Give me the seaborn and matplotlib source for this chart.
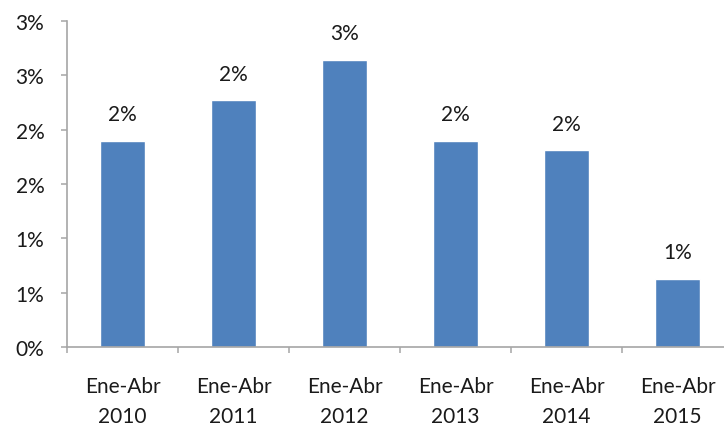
import matplotlib
matplotlib.use("Agg")
import matplotlib.pyplot as plt
import seaborn as sns
import pandas as pd
import numpy as np
import math
from matplotlib.ticker import FuncFormatter, FixedLocator

categories = ["Ene-Abr\n2010", "Ene-Abr\n2011", "Ene-Abr\n2012", "Ene-Abr\n2013", "Ene-Abr\n2014", "Ene-Abr\n2015"]
values = [0.0190, 0.0227, 0.0264, 0.0190, 0.0181, 0.0063]
yticks = [0.0, 0.005, 0.010, 0.015, 0.020, 0.025, 0.030]


def pct(v):
    return f"{math.floor(round(v * 100, 6) + 0.5):d}%"


sns.set_theme(style="white")
plt.rcParams['font.family'] = ['Lato', 'DejaVu Sans']

df = pd.DataFrame({"cat": categories, "val": values})

fig = plt.figure(figsize=(7.24, 4.31), dpi=100)
ax = fig.add_axes([67/724, 83/431, 666/724, 326/431])
sns.barplot(data=df, x="cat", y="val", color="#4F81BD", width=0.405, saturation=1, ax=ax)

ax.set_ylim(0, 0.03)
ax.set_xlim(-0.5, len(categories) - 0.5)
ax.yaxis.set_major_locator(FixedLocator(yticks))
ax.yaxis.set_major_formatter(FuncFormatter(lambda v, p: pct(v)))
ax.set_xlabel("")
ax.set_ylabel("")

for s in ["top", "right"]:
    ax.spines[s].set_visible(False)
for s in ["left", "bottom"]:
    ax.spines[s].set_color("#a6a6a6")
    ax.spines[s].set_linewidth(1.2)

ax.tick_params(axis="y", which="major", direction="out", length=4.3, width=1.1,
               color="#a6a6a6", labelsize=15, labelcolor="#1a1a1a", pad=12, left=True)
ax.tick_params(axis="x", which="major", length=0, labelsize=15, labelcolor="#1a1a1a", pad=21)
ax.set_xticks(np.arange(-0.5, len(categories) + 0.5, 1), minor=True)
ax.tick_params(axis="x", which="minor", direction="out", length=4.3, width=1.1,
               color="#a6a6a6", bottom=True)
for lbl in ax.get_xticklabels():
    lbl.set_linespacing(1.6)

for i, v in enumerate(values):
    ax.annotate(pct(v), (i, v), xytext=(0, 12), textcoords="offset points",
                ha="center", va="bottom", fontsize=15, color="#1a1a1a")

fig.savefig("out.png", dpi=100)
